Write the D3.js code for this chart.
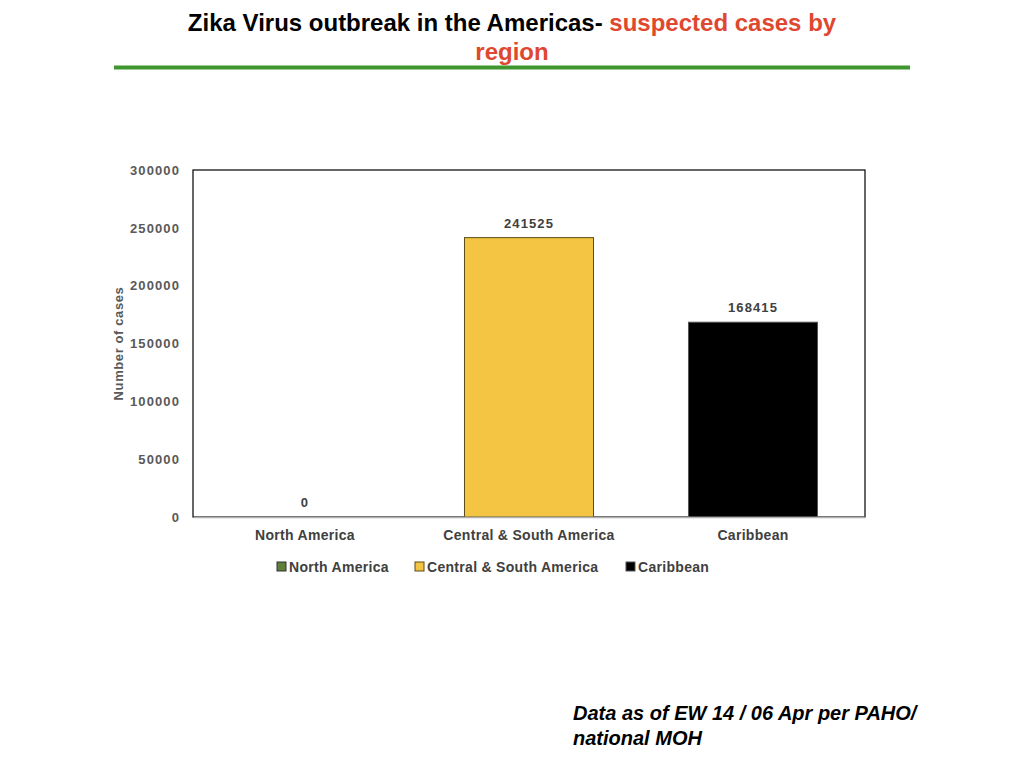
<!DOCTYPE html>
<html>
<head>
<meta charset="utf-8">
<script src="https://cdn.jsdelivr.net/npm/d3@7"></script>
<style>
  body { margin: 0; background: #fff; }
  svg text { font-family: "Liberation Sans", Arial, Helvetica, sans-serif; }
</style>
</head>
<body>
<div id="chart"></div>
<script>
// data
const regions = ['North America', 'Central & South America', 'Caribbean'];
const cases = [0, 241525, 168415];
const yTicks = [0, 50000, 100000, 150000, 200000, 250000, 300000];
const colors = ['#5f7f3a', '#f4c542', '#000000'];
const strokes = ['#333', '#5a4a1a', '#555'];

const W = 1024, H = 768;
const margin = { top: 170, right: 159, bottom: 251, left: 193 };
const w = W - margin.left - margin.right,
  h = H - margin.top - margin.bottom;

const svg = d3.select('#chart').append('svg')
  .attr('width', W).attr('height', H);

// title
const title = svg.append('text')
  .attr('x', 512).attr('y', 31)
  .attr('text-anchor', 'middle')
  .style('font-size', '24px').style('font-weight', 'bold');
title.append('tspan').attr('fill', '#000').text('Zika Virus outbreak in the Americas- ');
title.append('tspan').attr('fill', '#e0472f').text('suspected cases by');
svg.append('text')
  .attr('x', 512).attr('y', 60)
  .attr('text-anchor', 'middle')
  .attr('fill', '#e0472f')
  .style('font-size', '24px').style('font-weight', 'bold')
  .text('region');

svg.append('line')
  .attr('x1', 114).attr('x2', 910).attr('y1', 67.5).attr('y2', 67.5)
  .attr('stroke', '#3f962f').attr('stroke-width', 4);

const g = svg.append('g')
  .attr('transform', `translate(${margin.left},${margin.top})`);

const x = d3.scaleBand().domain(regions).range([0, w]).paddingInner(0.424).paddingOuter(0.212);
const y = d3.scaleLinear().domain([0, 300000]).range([h, 0]);

// plot frame
g.append('rect')
  .attr('x', 0).attr('y', 0).attr('width', w).attr('height', h)
  .attr('fill', 'none').attr('stroke', '#000').attr('stroke-width', 1.2);

// y axis
const yAxis = g.append('g')
  .call(d3.axisLeft(y).tickValues(yTicks).tickSize(0).tickPadding(13).tickFormat(d3.format('d')));
yAxis.select('.domain').remove();
yAxis.selectAll('text')
  .attr('fill', '#595959')
  .style('font-size', '13px').style('font-weight', 'bold').style('letter-spacing', '1.1px');

// bars
g.selectAll('.bar')
  .data(cases)
  .enter()
  .append('rect')
  .attr('class', 'bar')
  .attr('x', (d, i) => x(regions[i]))
  .attr('y', d => y(d))
  .attr('width', x.bandwidth())
  .attr('height', d => h - y(d))
  .attr('fill', (d, i) => colors[i])
  .attr('stroke', (d, i) => strokes[i])
  .attr('stroke-width', 1);

// value labels
g.selectAll('.val')
  .data(cases)
  .enter()
  .append('text')
  .attr('class', 'val')
  .attr('x', (d, i) => x(regions[i]) + x.bandwidth() / 2)
  .attr('y', d => y(d) - 10)
  .attr('text-anchor', 'middle')
  .attr('fill', '#404040')
  .style('font-size', '13px').style('font-weight', 'bold').style('letter-spacing', '1.1px')
  .text(d => d);

// x axis
const xAxis = g.append('g')
  .attr('transform', `translate(0,${h})`)
  .call(d3.axisBottom(x).tickSize(0).tickPadding(13));
xAxis.select('.domain').attr('stroke', '#b0b0b0').attr('stroke-width', 1.5);
xAxis.selectAll('text')
  .attr('fill', '#404040')
  .style('font-size', '14px').style('font-weight', 'bold').style('letter-spacing', '0.3px');

// y axis title
svg.append('text')
  .attr('transform', `translate(123,${margin.top + h / 2}) rotate(-90)`)
  .attr('text-anchor', 'middle')
  .attr('fill', '#595959')
  .style('font-size', '13px').style('font-weight', 'bold').style('letter-spacing', '0.6px')
  .text('Number of cases');

// legend
const legendX = [277, 415, 626];
const legend = svg.append('g').attr('transform', 'translate(0,572)');
const li = legend.selectAll('.li')
  .data(regions)
  .enter()
  .append('g')
  .attr('transform', (d, i) => `translate(${legendX[i]},0)`);
li.append('rect')
  .attr('x', 0).attr('y', -10).attr('width', 9).attr('height', 9)
  .attr('fill', (d, i) => colors[i])
  .attr('stroke', (d, i) => strokes[i]).attr('stroke-width', 1);
li.append('text')
  .attr('x', 12).attr('y', 0)
  .attr('fill', '#404040')
  .style('font-size', '14px').style('font-weight', 'bold').style('letter-spacing', '0.3px')
  .text(d => d);

// footnote
const foot = svg.append('text')
  .attr('fill', '#000')
  .style('font-size', '20px').style('font-weight', 'bold').style('font-style', 'italic');
foot.append('tspan').attr('x', 573).attr('y', 720).text('Data as of EW 14 / 06 Apr per PAHO/');
foot.append('tspan').attr('x', 573).attr('y', 745).text('national MOH');
</script>
</body>
</html>
